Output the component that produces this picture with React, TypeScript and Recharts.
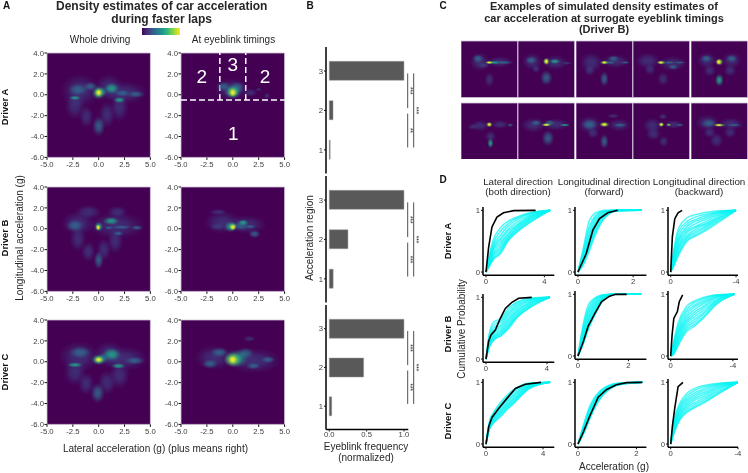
import React from "react";
import {
  Bar,
  BarChart,
  Line,
  LineChart,
  ReferenceArea,
  ReferenceDot,
  ReferenceLine,
  Scatter,
  ScatterChart,
  XAxis,
  YAxis,
} from "recharts";

const FONT = '"Liberation Sans", Arial, sans-serif';
const TICK = "#404040";

// density blobs: x (g), y (g), spread x (g), spread y (g), level
type Blob = number[];

const wholeA: Blob[] = [
  [-1.8, 0.4, 1.9, 1.6, 0], [2.5, 0.2, 2.2, 1.1, 0], [1, 0.7, 1.4, 1.3, 0], [-2.3, -1, 1, 1.4, 0],
  [2, -1.2, 0.9, 1.4, 0], [-1.2, -2.1, 0.7, 1.1, 0], [0.8, -1.9, 0.8, 1.3, 0], [0, -3, 0.65, 1, 1],
  [-2, 0.5, 1, 0.6, 1], [-0.8, 0.8, 0.7, 0.45, 1], [2.3, 0.15, 0.8, 0.35, 1], [3.6, 0.05, 0.85, 0.35, 1],
  [-2.3, -0.3, 0.6, 0.22, 2], [1.25, 0.6, 0.75, 0.55, 2], [2, -0.5, 0.6, 0.3, 2], [0.4, 0.3, 0.45, 0.45, 1],
  [0, 0.2, 0.7, 0.7, 2], [0, 0.2, 0.5, 0.5, 3], [0, 0.2, 0.3, 0.33, 4],
];
const blinkA: Blob[] = [
  [-0.1, 0.5, 1.7, 1.1, 0], [1.7, 0.2, 0.7, 0.4, 0], [2.5, 0.5, 0.3, 0.2, 0], [3.3, -0.1, 0.3, 0.3, 0],
  [-0.9, 0.8, 0.7, 0.5, 1], [0.4, 0.7, 0.8, 0.6, 1], [0, 0.3, 0.85, 0.7, 2], [0, 0.25, 0.6, 0.55, 3],
  [0, 0.2, 0.33, 0.38, 4],
];
const wholeB: Blob[] = [
  [-2, 0.5, 1.6, 1.2, 0], [1.7, 0.3, 2.8, 1.3, 0], [-1, 1.6, 1.3, 0.7, 0], [1.8, 1.6, 1, 0.6, 0],
  [-2, -1, 0.8, 1.2, 0], [1.6, -1.2, 0.8, 1.2, 0], [-1, -2.2, 0.7, 1, 0], [0.5, -2, 0.7, 1.1, 0],
  [0, -3, 0.5, 0.9, 1], [-2.3, 0.3, 0.9, 0.6, 1], [1.2, 0.75, 0.8, 0.4, 2], [2.2, 0.15, 1, 0.2, 1],
  [3.7, 0.1, 0.6, 0.25, 1], [1.9, -0.45, 0.55, 0.25, 1], [1, 0.1, 0.45, 0.17, 1], [0, 0.2, 0.45, 0.5, 2],
  [-0.05, 0.13, 0.25, 0.3, 4],
];
const blinkB: Blob[] = [
  [-1, 0.6, 1.8, 1.1, 0], [1.3, 0.4, 2, 0.9, 0], [-1.4, 1.6, 0.9, 0.3, 0], [2.1, -0.5, 0.6, 0.4, 1],
  [-1.5, 0.2, 0.8, 0.35, 0], [0.8, 0.3, 0.8, 0.5, 1], [1, 0.6, 0.5, 0.3, 2], [1.7, 0.2, 0.55, 0.2, 1],
  [-0.2, 0.2, 0.65, 0.55, 2], [0, 0.2, 0.42, 0.38, 3], [0, 0.15, 0.27, 0.27, 4],
];
const wholeC: Blob[] = [
  [-1.9, 0.5, 2, 1.5, 0], [2.5, 0.3, 2.2, 1.2, 0], [1, 0.7, 1.5, 1.3, 0], [-2.3, -1, 1.1, 1.3, 0],
  [2, -1.3, 1, 1.3, 0], [-1.2, -2.1, 0.8, 1.1, 0], [0.8, -2, 0.9, 1.2, 0], [-0.1, -3, 0.7, 1, 1],
  [-1.8, 0.9, 1.1, 0.6, 1], [-2.3, -0.3, 0.8, 0.25, 2], [1.25, 0.7, 0.9, 0.65, 2], [1.9, -0.4, 0.7, 0.28, 2],
  [3.5, 0.1, 1, 0.4, 1], [0.5, 0.4, 0.6, 0.5, 1], [0, 0.2, 0.75, 0.55, 2], [0, 0.2, 0.55, 0.42, 3],
  [0, 0.2, 0.33, 0.24, 4],
];
const blinkC: Blob[] = [
  [-1.8, 0.4, 1.9, 1.2, 0], [2.1, 0.1, 2.6, 1.2, 0], [1.6, 2.2, 0.6, 0.3, 0], [-1.3, 0.9, 0.9, 0.5, 1],
  [-2.2, -0.2, 0.8, 0.45, 1], [1.2, 0.8, 0.9, 0.6, 1], [2, -0.4, 0.7, 0.35, 1], [3.4, 0.2, 0.7, 0.35, 1],
  [0.3, 0.3, 1.2, 0.9, 2], [0, 0.2, 0.85, 0.7, 3], [0, 0.2, 0.42, 0.42, 4],
];

const simPanels: Blob[][] = [
  [[-1.7, 0.3, 1.6, 1.5, 0], [0, -2.8, 0.8, 1.2, 0], [1.8, 0.3, 2, 0.9, 0], [-2, 0.9, 0.9, 0.7, 1], [-1, -0.3, 1, 0.5, 0], [2.5, 0.2, 1.7, 0.3, 1], [0.9, 0.2, 0.9, 0.3, 2], [0, 0.2, 0.7, 0.3, 3], [0, 0.2, 0.45, 0.2, 4]],
  [[-2.5, 0.4, 1.6, 1.4, 0], [1.6, 0.2, 2, 1.2, 0], [0, -2.5, 1, 1.2, 1], [-2.7, 0.6, 0.9, 0.6, 1], [-1.8, -0.9, 0.7, 0.7, 0], [3.6, 0.1, 0.9, 0.3, 0], [1.5, 0.4, 0.9, 0.4, 2], [0, 0.4, 0.55, 0.6, 3], [0, 0.4, 0.35, 0.45, 4]],
  [[-2.3, 0.2, 1.8, 1.6, 0], [2, 0.4, 2.2, 1.1, 0], [0, -2.7, 0.7, 1.2, 1], [-2.6, -1.2, 0.9, 0.9, 0], [3.7, 0.2, 0.8, 0.25, 1], [1.6, 0.9, 0.9, 0.5, 1], [1, 0.2, 1, 0.3, 1], [0, 0.2, 0.7, 0.35, 3], [0, 0.2, 0.4, 0.22, 4]],
  [[-2.4, 0.5, 2, 1.3, 0], [2, 0, 2.2, 1.2, 0], [0.3, -2.7, 0.9, 1.1, 0], [-2, -1, 0.9, 0.9, 0], [2.1, -0.6, 0.8, 0.4, 1], [3.3, 0.2, 1, 0.22, 1], [1.4, 0.2, 1, 0.25, 1], [0, 0.2, 0.75, 0.35, 3], [-0.1, 0.2, 0.45, 0.22, 4]],
  [[-2.2, 0.6, 1.6, 1.3, 0], [2.2, 0.6, 1.6, 1.3, 0], [-1.7, -1.2, 1, 1, 0], [1.9, -1.2, 1, 1, 0], [-2.3, 0.9, 0.9, 0.6, 1], [2.2, 0.9, 0.9, 0.6, 1], [0, -2.9, 0.7, 1, 2], [0, 0.3, 0.65, 0.6, 3], [-0.1, 0.3, 0.42, 0.42, 4]],
  [[-1.6, 0, 1.4, 0.9, 0], [1.9, 0.2, 1.4, 0.7, 0], [-2.9, -0.2, 0.8, 0.5, 0], [0.2, -1.9, 0.9, 0.9, 0], [0.2, -3.1, 0.5, 0.8, 2], [3.7, 0.1, 0.5, 0.3, 1], [0, 0.2, 0.55, 0.45, 3], [0, 0.2, 0.33, 0.3, 4]],
  [[-2.3, 0.1, 2, 1.2, 0], [1.7, 0.2, 2.2, 1, 0], [0.3, -2.2, 1, 1.3, 1], [-1.8, 0.5, 0.9, 0.5, 1], [3.3, 0.1, 0.9, 0.22, 2], [0.6, 0.5, 0.9, 0.5, 1], [0, 0.15, 0.85, 0.3, 3], [0, 0.15, 0.5, 0.2, 4]],
  [[-2.6, 0.2, 1.9, 1.4, 0], [2.6, 0.1, 1.9, 1, 0], [1.6, 1.7, 1, 0.4, 0], [-2, -1.3, 1, 0.9, 0], [0, -2.8, 0.7, 1.2, 1], [-2.6, 0.2, 1.3, 0.9, 1], [2.8, 0.1, 1.1, 0.3, 1], [0, 0.2, 0.85, 0.45, 3], [0, 0.2, 0.5, 0.27, 4]],
  [[-1.6, 0, 1.5, 1.3, 0], [2.2, 0.2, 1.6, 0.7, 0], [-1.4, -1.5, 1.2, 1, 0], [0.4, -2.8, 0.8, 0.9, 0], [0.3, 1.6, 0.7, 0.5, 0], [3.3, 0.1, 0.7, 0.2, 1], [1.3, 0.15, 0.4, 0.25, 3], [0, 0.2, 0.5, 0.4, 3], [0, 0.2, 0.32, 0.26, 4]],
  [[-2.1, 0.5, 1.9, 1.3, 0], [2.1, 0.3, 2, 1, 0], [-0.5, -2.6, 1.1, 1.2, 0], [-1.7, -1.2, 1, 0.9, 0], [1.9, -1.2, 1, 0.9, 0], [-1.8, 0.4, 1.2, 0.7, 1], [2.6, 0.1, 1.2, 0.25, 1], [0, 0.1, 1, 0.3, 3], [-0.1, 0.1, 0.6, 0.18, 4]],
];

const HEAT_X = [-5, -2.5, 0, 2.5, 5];
const HEAT_Y = [-6, -4, -2, 0, 2, 4];

// eyeblink frequency per acceleration region
const regions = [3, 2, 1];
const blinkFreqA = [1, 0.05, 0.012];
const blinkFreqB = [1, 0.25, 0.052];
const blinkFreqC = [1, 0.46, 0.032];
const starsA = ["***", "**", "***"];
const starsB = ["***", "***", "***"];
const starsC = ["***", "***", "***"];

// cumulative curves, y values at the shared x positions of each panel
const latXsA = [0, 0.25, 0.5, 1, 1.5, 2, 3, 4.4];
const latSimA = [
  [0, 0.3, 0.52, 0.72, 0.82, 0.88, 0.96, 1],
  [0, 0.27, 0.47, 0.66, 0.78, 0.86, 0.95, 1],
  [0, 0.24, 0.43, 0.6, 0.74, 0.83, 0.94, 1],
  [0, 0.22, 0.4, 0.55, 0.69, 0.79, 0.92, 1],
  [0, 0.2, 0.37, 0.52, 0.66, 0.75, 0.9, 1],
  [0, 0.18, 0.35, 0.48, 0.62, 0.73, 0.89, 1],
  [0, 0.17, 0.31, 0.45, 0.6, 0.71, 0.87, 1],
  [0, 0.15, 0.28, 0.41, 0.57, 0.69, 0.86, 1],
  [0, 0.14, 0.26, 0.38, 0.55, 0.67, 0.84, 1],
  [0, 0.12, 0.23, 0.35, 0.53, 0.65, 0.83, 1],
  [0, 0.11, 0.21, 0.32, 0.51, 0.63, 0.81, 1],
  [0, 0.1, 0.2, 0.3, 0.5, 0.62, 0.8, 1],
];
const latRealA = [[0, 0], [0.18, 0.4], [0.41, 0.73], [0.75, 0.89], [1.2, 0.96], [1.9, 0.995], [3.4, 1]];

const fwdXsA = [0, 0.2, 0.4, 0.6, 0.8, 1, 1.4, 2.3];
const fwdSimA = [
  [0, 0.4, 0.82, 0.95, 0.985, 1, 1, 1],
  [0, 0.36, 0.72, 0.9, 0.97, 0.99, 1, 1],
  [0, 0.33, 0.66, 0.87, 0.96, 0.99, 1, 1],
  [0, 0.3, 0.6, 0.83, 0.94, 0.98, 1, 1],
  [0, 0.27, 0.56, 0.79, 0.92, 0.97, 1, 1],
  [0, 0.25, 0.52, 0.76, 0.9, 0.96, 1, 1],
  [0, 0.23, 0.49, 0.73, 0.88, 0.95, 1, 1],
  [0, 0.21, 0.46, 0.7, 0.86, 0.94, 1, 1],
  [0, 0.19, 0.43, 0.67, 0.84, 0.93, 0.995, 1],
  [0, 0.17, 0.4, 0.63, 0.81, 0.92, 0.995, 1],
  [0, 0.14, 0.36, 0.6, 0.78, 0.9, 0.99, 1],
  [0, 0.12, 0.33, 0.57, 0.76, 0.89, 0.99, 1],
];
const fwdRealA = [[0, 0], [0.3, 0.3], [0.54, 0.68], [0.78, 0.865], [1.08, 0.96], [1.44, 1]];

const backXsA = [0, -0.2, -0.5, -1, -1.5, -2, -3, -4];
const backSimA = [
  [0, 0.38, 0.72, 0.88, 0.93, 0.96, 0.995, 1],
  [0, 0.34, 0.66, 0.82, 0.89, 0.93, 0.98, 1],
  [0, 0.31, 0.6, 0.78, 0.85, 0.9, 0.97, 1],
  [0, 0.28, 0.55, 0.74, 0.82, 0.87, 0.96, 1],
  [0, 0.25, 0.52, 0.7, 0.78, 0.84, 0.94, 1],
  [0, 0.22, 0.48, 0.67, 0.74, 0.8, 0.93, 1],
  [0, 0.2, 0.44, 0.64, 0.72, 0.77, 0.91, 1],
  [0, 0.18, 0.41, 0.6, 0.69, 0.75, 0.89, 1],
  [0, 0.16, 0.38, 0.57, 0.66, 0.72, 0.88, 1],
  [0, 0.14, 0.34, 0.55, 0.63, 0.7, 0.86, 1],
  [0, 0.12, 0.31, 0.52, 0.6, 0.67, 0.84, 1],
  [0, 0.1, 0.28, 0.5, 0.58, 0.65, 0.82, 1],
];
const backRealA = [[0, 0], [-0.1, 0.57], [-0.25, 0.865], [-0.45, 0.96], [-0.7, 1]];

const latXsB = [0, 0.2, 0.5, 1, 1.5, 2, 3, 4.2];
const latSimB = [
  [0, 0.39, 0.6, 0.66, 0.83, 0.92, 0.99, 1],
  [0, 0.36, 0.55, 0.63, 0.79, 0.9, 0.98, 1],
  [0, 0.33, 0.5, 0.6, 0.75, 0.87, 0.97, 1],
  [0, 0.31, 0.46, 0.56, 0.72, 0.84, 0.96, 1],
  [0, 0.29, 0.43, 0.53, 0.68, 0.81, 0.95, 1],
  [0, 0.27, 0.41, 0.5, 0.65, 0.78, 0.93, 1],
  [0, 0.25, 0.38, 0.47, 0.62, 0.76, 0.92, 1],
  [0, 0.24, 0.36, 0.45, 0.59, 0.73, 0.9, 1],
  [0, 0.22, 0.34, 0.43, 0.56, 0.71, 0.89, 1],
  [0, 0.21, 0.33, 0.41, 0.54, 0.69, 0.87, 1],
  [0, 0.19, 0.31, 0.39, 0.52, 0.67, 0.86, 1],
  [0, 0.18, 0.3, 0.38, 0.5, 0.66, 0.85, 1],
];
const latRealB = [[0, 0], [0.17, 0.285], [0.33, 0.39], [0.61, 0.47], [0.94, 0.66], [1.27, 0.82], [1.7, 0.92], [2.14, 0.985], [3, 1]];

const fwdXsB = [0, 0.2, 0.4, 0.6, 0.8, 1, 1.4, 2.5];
const fwdSimB = [
  [0, 0.5, 0.82, 0.92, 0.97, 0.995, 1, 1],
  [0, 0.45, 0.76, 0.9, 0.96, 0.99, 1, 1],
  [0, 0.41, 0.72, 0.87, 0.95, 0.985, 1, 1],
  [0, 0.37, 0.67, 0.84, 0.93, 0.98, 1, 1],
  [0, 0.34, 0.63, 0.81, 0.91, 0.97, 1, 1],
  [0, 0.31, 0.59, 0.78, 0.89, 0.96, 1, 1],
  [0, 0.28, 0.56, 0.75, 0.87, 0.95, 1, 1],
  [0, 0.26, 0.53, 0.72, 0.85, 0.94, 1, 1],
  [0, 0.24, 0.5, 0.69, 0.83, 0.93, 1, 1],
  [0, 0.22, 0.47, 0.66, 0.81, 0.92, 1, 1],
  [0, 0.2, 0.44, 0.63, 0.79, 0.91, 1, 1],
  [0, 0.18, 0.42, 0.61, 0.77, 0.91, 1, 1],
];
const fwdRealB = [[0, 0], [0.21, 0.23], [0.4, 0.48], [0.67, 0.69], [0.93, 0.88], [1.25, 0.97], [1.5, 1], [1.93, 1]];

const backXsB = [0, -0.2, -0.5, -1, -1.5, -2, -3, -4.1];
const backSimB = [
  [0, 0.25, 0.55, 0.8, 0.89, 0.94, 0.995, 1],
  [0, 0.22, 0.5, 0.75, 0.86, 0.92, 0.99, 1],
  [0, 0.19, 0.45, 0.71, 0.82, 0.89, 0.98, 1],
  [0, 0.17, 0.41, 0.66, 0.79, 0.86, 0.97, 1],
  [0, 0.15, 0.38, 0.62, 0.75, 0.83, 0.96, 1],
  [0, 0.13, 0.35, 0.58, 0.71, 0.79, 0.95, 1],
  [0, 0.11, 0.31, 0.55, 0.67, 0.76, 0.93, 1],
  [0, 0.1, 0.29, 0.52, 0.63, 0.72, 0.91, 1],
  [0, 0.08, 0.26, 0.48, 0.59, 0.68, 0.9, 1],
  [0, 0.06, 0.23, 0.45, 0.55, 0.65, 0.88, 1],
  [0, 0.04, 0.2, 0.42, 0.51, 0.61, 0.86, 1],
  [0, 0.03, 0.18, 0.39, 0.48, 0.59, 0.85, 1],
];
const backRealB = [[0, 0], [-0.09, 0.34], [-0.2, 0.61], [-0.43, 0.72], [-0.55, 0.88], [-0.77, 0.99]];

const latXsC = [0, 0.25, 0.5, 1, 1.5, 2, 3, 4.5];
const latSimC = [
  [0, 0.38, 0.5, 0.67, 0.8, 0.89, 0.985, 1],
  [0, 0.36, 0.48, 0.64, 0.77, 0.87, 0.98, 1],
  [0, 0.34, 0.46, 0.61, 0.74, 0.84, 0.97, 1],
  [0, 0.33, 0.44, 0.59, 0.71, 0.81, 0.96, 1],
  [0, 0.31, 0.42, 0.56, 0.69, 0.79, 0.95, 1],
  [0, 0.3, 0.4, 0.54, 0.66, 0.76, 0.94, 1],
  [0, 0.29, 0.39, 0.52, 0.64, 0.74, 0.93, 1],
  [0, 0.27, 0.37, 0.5, 0.62, 0.72, 0.92, 1],
  [0, 0.26, 0.35, 0.48, 0.6, 0.7, 0.91, 1],
  [0, 0.25, 0.34, 0.46, 0.58, 0.68, 0.9, 1],
  [0, 0.24, 0.33, 0.44, 0.56, 0.67, 0.89, 1],
];
const latRealC = [[0, 0], [0.19, 0.28], [0.42, 0.43], [0.89, 0.575], [1.47, 0.74], [2.06, 0.9], [2.76, 0.97], [3.86, 1]];

const fwdXsC = [0, 0.2, 0.4, 0.6, 0.8, 1, 1.4, 2.2];
const fwdSimC = [
  [0, 0.33, 0.61, 0.78, 0.88, 0.94, 0.99, 1],
  [0, 0.31, 0.58, 0.76, 0.87, 0.93, 0.985, 1],
  [0, 0.29, 0.56, 0.74, 0.85, 0.92, 0.98, 1],
  [0, 0.27, 0.53, 0.72, 0.84, 0.91, 0.98, 1],
  [0, 0.25, 0.5, 0.7, 0.82, 0.9, 0.975, 1],
  [0, 0.23, 0.48, 0.68, 0.81, 0.89, 0.97, 1],
  [0, 0.21, 0.46, 0.66, 0.79, 0.88, 0.97, 1],
  [0, 0.2, 0.44, 0.64, 0.78, 0.87, 0.965, 1],
  [0, 0.19, 0.42, 0.62, 0.77, 0.86, 0.96, 1],
  [0, 0.17, 0.4, 0.61, 0.76, 0.86, 0.96, 1],
];
const fwdRealC = [[0, 0], [0.17, 0.18], [0.4, 0.45], [0.69, 0.76], [0.97, 0.88], [1.31, 0.96], [1.66, 0.995], [2.2, 1]];

const backXsC = [0, -0.2, -0.5, -1, -1.5, -2, -3, -4];
const backSimC = [
  [0, 0.39, 0.64, 0.83, 0.91, 0.95, 0.99, 1],
  [0, 0.36, 0.6, 0.79, 0.88, 0.93, 0.98, 1],
  [0, 0.33, 0.57, 0.75, 0.84, 0.9, 0.97, 1],
  [0, 0.31, 0.54, 0.72, 0.81, 0.87, 0.96, 1],
  [0, 0.29, 0.51, 0.69, 0.78, 0.84, 0.94, 1],
  [0, 0.27, 0.48, 0.66, 0.75, 0.81, 0.93, 1],
  [0, 0.25, 0.46, 0.63, 0.72, 0.78, 0.91, 1],
  [0, 0.23, 0.43, 0.6, 0.68, 0.75, 0.89, 1],
  [0, 0.21, 0.41, 0.57, 0.65, 0.72, 0.87, 1],
  [0, 0.19, 0.39, 0.54, 0.62, 0.69, 0.85, 1],
  [0, 0.17, 0.37, 0.52, 0.6, 0.67, 0.84, 1],
];
const backRealC = [[0, 0], [-0.1, 0.285], [-0.24, 0.58], [-0.44, 0.93], [-0.73, 1]];

const viridisStops = "#440154, #482878, #3e4a89, #31688e, #26828e, #1f9e89, #35b779, #6ece58, #b5de2b, #fde725";

const LEVELS = ["#3c4a8a", "#2f6c8e", "#1fa088", "#6ece58", "#fde725"];
const LEVEL_PEAK = [0.62, 0.85, 0.95, 1, 1];

function Txt({ x, y, size = 10, bold, rot, color = "#262626", children }: any) {
  return (
    <div
      style={{
        position: "absolute",
        left: x,
        top: y,
        transform: `translate(-50%, -50%)${rot ? ` rotate(${rot}deg)` : ""}`,
        whiteSpace: "nowrap",
        fontFamily: FONT,
        fontSize: size,
        fontWeight: bold ? 700 : 400,
        color,
        lineHeight: 1,
      }}
    >
      {children}
    </div>
  );
}

function Heat({ left, top, w, h, blobs, axes = true, spread = 1, children }: any) {
  const padL = axes ? 40 : 1;
  const padT = axes ? 6 : 1;
  const padR = axes ? 10 : 1;
  const padB = axes ? 16 : 1;
  const data = blobs.map((b: Blob) => ({ x: b[0], y: b[1], sx: b[2], sy: b[3], level: b[4] }));
  const drawBlob = (p: any) => (
    <ellipse
      cx={p.cx}
      cy={p.cy}
      rx={(spread * p.payload.sx * w) / 10}
      ry={(spread * p.payload.sy * h) / 10}
      fill={`url(#lvl${p.payload.level})`}
    />
  );
  const tick = { fontSize: 7.7, fill: TICK, fontFamily: FONT };
  return (
    <div style={{ position: "absolute", left: left - padL, top: top - padT }}>
      <ScatterChart
        width={padL + w + padR}
        height={padT + h + padB}
        margin={{ top: padT, right: padR, bottom: 0, left: 0 }}
      >
        <XAxis
          type="number"
          dataKey="x"
          domain={[-5, 5]}
          ticks={HEAT_X}
          interval={0}
          hide={!axes}
          height={padB}
          axisLine={false}
          tick={tick}
          tickSize={2.5}
          tickMargin={1.5}
          tickLine={{ stroke: "#111", strokeWidth: 1 }}
          tickFormatter={(v: number) => v.toFixed(1)}
        />
        <YAxis
          type="number"
          dataKey="y"
          domain={[-6, 4]}
          ticks={HEAT_Y}
          interval={0}
          hide={!axes}
          width={padL}
          axisLine={false}
          tick={tick}
          tickSize={2.5}
          tickMargin={0.5}
          tickLine={{ stroke: "#111", strokeWidth: 1 }}
          tickFormatter={(v: number) => v.toFixed(1)}
        />
        <ReferenceArea x1={-5} x2={5} y1={-6} y2={4} fill="#440154" fillOpacity={1} stroke="#cfc4d8" strokeWidth={0.8} />
        <Scatter data={data} shape={drawBlob} isAnimationActive={false} />
        {children}
      </ScatterChart>
    </div>
  );
}

const regionLabel = (x: number, y: number, value: string) => (
  <ReferenceDot
    key={value + x}
    x={x}
    y={y}
    r={0}
    fill="none"
    stroke="none"
    label={{ value, position: "center", fill: "#fff", fontSize: 19, fontFamily: FONT }}
  />
);

const dash = { stroke: "#fff", strokeWidth: 1.5, strokeDasharray: "6 3" };

function BlinkBars({ top, freq, stars, showX }: any) {
  const data = regions.map((r, i) => ({ region: r, freq: freq[i] }));
  const h = 124.5;
  const padB = showX ? 14 : 2;
  const sigLine = (x: number, y1: number, y2: number) => (
    <ReferenceLine
      key={`${x}-${y1}`}
      ifOverflow="visible"
      segment={[{ x, y: y1 }, { x, y: y2 }]}
      stroke="#222"
      strokeWidth={0.8}
    />
  );
  const star = (x: number, y: number, value: string) => (
    <ReferenceDot
      key={`s${x}-${y}`}
      ifOverflow="visible"
      x={x}
      y={y}
      r={0}
      fill="none"
      stroke="none"
      label={{ value, position: "center", angle: 90, fill: "#222", fontSize: 6.5, fontFamily: FONT }}
    />
  );
  return (
    <div style={{ position: "absolute", left: 325.7 - 16, top: top - 1 }}>
      <BarChart
        layout="vertical"
        width={16 + 82.3 + 20}
        height={1 + h + padB}
        data={data}
        margin={{ top: 1, right: 20, bottom: 0, left: 0 }}
      >
        <XAxis
          type="number"
          domain={[-0.044, 1.058]}
          allowDataOverflow
          ticks={[0, 0.5, 1]}
          hide={!showX}
          height={padB}
          axisLine={{ stroke: "#000", strokeWidth: 1.5 }}
          tick={{ fontSize: 7.7, fill: TICK, fontFamily: FONT }}
          tickSize={2}
          tickMargin={0.5}
          tickLine={{ stroke: "#111" }}
          tickFormatter={(v: number) => v.toFixed(1)}
        />
        <YAxis
          type="number"
          dataKey="region"
          domain={[0.4, 3.61]}
          allowDataOverflow
          reversed
          ticks={regions}
          width={16}
          axisLine={{ stroke: "#000", strokeWidth: 1.5 }}
          tick={{ fontSize: 7.7, fill: TICK, fontFamily: FONT }}
          tickSize={2}
          tickMargin={1}
          tickLine={{ stroke: "#111" }}
        />
        <Bar dataKey="freq" barSize={19} fill="#595959" stroke="#9a9a9a" strokeWidth={0.5} isAnimationActive={false} />
        {sigLine(1.05, 2.94, 2.06)}
        {sigLine(1.05, 1.92, 1.06)}
        {sigLine(1.13, 2.94, 1.06)}
        {star(1.09, 2.5, stars[0])}
        {star(1.09, 1.49, stars[1])}
        {star(1.17, 2, stars[2])}
      </BarChart>
    </div>
  );
}

function Cdf({ left, top, xDomain, xTicks, reversed, xs, sims, real, rowH = 68.3 }: any) {
  const padL = 14;
  const padB = 13;
  const w = left < 500 ? 71.3 : left < 600 ? 71.4 : 70;
  const realData = real.map((p: number[]) => ({ x: p[0], y: p[1] }));
  return (
    <div style={{ position: "absolute", left: left - padL, top: top - 1 }}>
      <LineChart
        width={padL + w + 6}
        height={1 + rowH + padB}
        margin={{ top: 1, right: 6, bottom: 0, left: 0 }}
      >
        <XAxis
          type="number"
          dataKey="x"
          domain={xDomain}
          allowDataOverflow
          reversed={reversed}
          ticks={xTicks}
          interval={0}
          height={padB}
          axisLine={{ stroke: "#000", strokeWidth: 1.5 }}
          tick={{ fontSize: 7.7, fill: TICK, fontFamily: FONT }}
          tickSize={2}
          tickMargin={1}
          tickLine={{ stroke: "#111" }}
        />
        <YAxis
          type="number"
          dataKey="y"
          domain={[-0.053, 1.054]}
          allowDataOverflow
          ticks={[0, 1]}
          interval={0}
          width={padL}
          axisLine={{ stroke: "#000", strokeWidth: 1.5 }}
          tick={{ fontSize: 7.7, fill: TICK, fontFamily: FONT }}
          tickSize={2}
          tickMargin={1}
          tickLine={{ stroke: "#111" }}
        />
        {sims.map((vals: number[], i: number) => (
          <Line
            key={i}
            data={xs.map((x: number, k: number) => ({ x, y: vals[k] }))}
            dataKey="y"
            type="monotone"
            stroke="#04f4f4"
            strokeOpacity={0.7}
            strokeWidth={1.5}
            dot={false}
            isAnimationActive={false}
          />
        ))}
        <Line
          data={realData}
          dataKey="y"
          type="linear"
          stroke="#000"
          strokeWidth={1.6}
          dot={false}
          isAnimationActive={false}
        />
      </LineChart>
    </div>
  );
}

const simCols = [461.7, 519, 576.7, 634, 691.7];
const simRows = [41.3, 102.7];

export default function App() {
  return (
    <div style={{ position: "absolute", left: 0, top: 0, width: 748, height: 473, background: "#fff", overflow: "hidden", filter: "blur(0.35px)" }}>
      <svg width={0} height={0} style={{ position: "absolute" }}>
        <defs>
          {LEVELS.map((c, i) => (
            <radialGradient key={c} id={`lvl${i}`}>
              <stop offset="0%" stopColor={c} stopOpacity={LEVEL_PEAK[i]} />
              <stop offset="40%" stopColor={c} stopOpacity={LEVEL_PEAK[i] * 0.75} />
              <stop offset="75%" stopColor={c} stopOpacity={LEVEL_PEAK[i] * 0.25} />
              <stop offset="100%" stopColor={c} stopOpacity={0} />
            </radialGradient>
          ))}
        </defs>
      </svg>

      <Txt x={6.5} y={6} size={10} bold color="#111">A</Txt>
      <Txt x={310} y={5.5} size={10} bold color="#111">B</Txt>
      <Txt x={443} y={5.5} size={10} bold color="#111">C</Txt>
      <Txt x={443} y={180} size={10} bold color="#111">D</Txt>

      <Txt x={161.7} y={6} size={12} bold>Density estimates of car acceleration</Txt>
      <Txt x={161.7} y={18.7} size={12} bold>during faster laps</Txt>
      <div style={{ position: "absolute", left: 142, top: 27.5, width: 38, height: 7.5, background: `linear-gradient(to right, ${viridisStops})` }} />
      <Txt x={100} y={40} size={10}>Whole driving</Txt>
      <Txt x={233.5} y={40} size={10}>At eyeblink timings</Txt>
      <Txt x={5} y={107} size={9.5} bold rot={-90} color="#111">Driver A</Txt>
      <Txt x={5} y={238} size={9.5} bold rot={-90} color="#111">Driver B</Txt>
      <Txt x={5} y={372} size={9.5} bold rot={-90} color="#111">Driver C</Txt>
      <Txt x={20} y={238} size={10} rot={-90}>Longitudinal acceleration (g)</Txt>
      <Txt x={155.5} y={449} size={10}>Lateral acceleration (g) (plus means right)</Txt>

      <Heat left={47.3} top={52.7} w={103.4} h={104.4} blobs={wholeA} />
      <Heat left={180.7} top={52.7} w={103.6} h={104.4} blobs={blinkA}>
        <ReferenceLine y={-0.5} {...dash} />
        <ReferenceLine segment={[{ x: -1.25, y: -0.5 }, { x: -1.25, y: 4 }]} {...dash} />
        <ReferenceLine segment={[{ x: 1.25, y: -0.5 }, { x: 1.25, y: 4 }]} {...dash} />
        {regionLabel(-3, 1.75, "2")}
        {regionLabel(0, 2.9, "3")}
        {regionLabel(3.1, 1.75, "2")}
        {regionLabel(0.05, -3.7, "1")}
      </Heat>
      <Heat left={47.3} top={186.7} w={103.4} h={104.4} blobs={wholeB} />
      <Heat left={180.7} top={186.7} w={103.6} h={104.4} blobs={blinkB} />
      <Heat left={47.3} top={320.2} w={103.4} h={104.4} blobs={wholeC} />
      <Heat left={180.7} top={320.2} w={103.6} h={104.4} blobs={blinkC} />

      <BlinkBars top={47.3} freq={blinkFreqA} stars={starsA} />
      <BlinkBars top={176} freq={blinkFreqB} stars={starsB} />
      <BlinkBars top={304.5} freq={blinkFreqC} stars={starsC} showX />
      <Txt x={310} y={238} size={10} rot={-90}>Acceleration region</Txt>
      <Txt x={366} y={446.5} size={10}>Eyeblink frequency</Txt>
      <Txt x={366} y={457.5} size={10}>(normalized)</Txt>

      <Txt x={604} y={6} size={11} bold>Examples of simulated density estimates of</Txt>
      <Txt x={604} y={17.5} size={11} bold>car acceleration at surrogate eyeblink timings</Txt>
      <Txt x={604} y={29} size={11} bold>(Driver B)</Txt>
      {simRows.map((top, r) =>
        simCols.map((left, c) => (
          <Heat key={`${r}-${c}`} left={left} top={top} w={55.6} h={55.6} blobs={simPanels[r * 5 + c]} axes={false} spread={1.15} />
        ))
      )}

      <Txt x={518} y={182} size={9.8}>Lateral direction</Txt>
      <Txt x={518} y={192} size={9.8}>(both direction)</Txt>
      <Txt x={604} y={182} size={9.8}>Longitudinal direction</Txt>
      <Txt x={604} y={192} size={9.8}>(forward)</Txt>
      <Txt x={699} y={182} size={9.8}>Longitudinal direction</Txt>
      <Txt x={699} y={192} size={9.8}>(backward)</Txt>
      <Txt x={448} y={241} size={9.5} bold rot={-90} color="#111">Driver A</Txt>
      <Txt x={448} y={334} size={9.5} bold rot={-90} color="#111">Driver B</Txt>
      <Txt x={448} y={421} size={9.5} bold rot={-90} color="#111">Driver C</Txt>
      <Txt x={462} y={329} size={10} rot={-90}>Cumulative Probability</Txt>
      <Txt x={614} y={466.5} size={10}>Acceleration (g)</Txt>

      <Cdf left={482.7} top={206.7} xDomain={[-0.205, 4.68]} xTicks={[0, 4]} xs={latXsA} sims={latSimA} real={latRealA} />
      <Cdf left={575.3} top={206.7} xDomain={[-0.108, 2.48]} xTicks={[0, 2]} xs={fwdXsA} sims={fwdSimA} real={fwdRealA} />
      <Cdf left={668.3} top={206.7} xDomain={[-4.12, 0.166]} xTicks={[0, -4]} reversed xs={backXsA} sims={backSimA} real={backRealA} />
      <Cdf left={482.7} top={294} xDomain={[-0.197, 4.48]} xTicks={[0, 4]} xs={latXsB} sims={latSimB} real={latRealB} />
      <Cdf left={575.3} top={290.7} xDomain={[-0.118, 2.71]} xTicks={[0, 2]} xs={fwdXsB} sims={fwdSimB} real={fwdRealB} />
      <Cdf left={668.3} top={290.7} xDomain={[-4.33, 0.173]} xTicks={[0, -4]} reversed xs={backXsB} sims={backSimB} real={backRealB} />
      <Cdf left={482.7} top={378.7} xDomain={[-0.21, 4.79]} xTicks={[0, 4]} xs={latXsC} sims={latSimC} real={latRealC} />
      <Cdf left={575.3} top={379} xDomain={[-0.103, 2.34]} xTicks={[0, 2]} xs={fwdXsC} sims={fwdSimC} real={fwdRealC} />
      <Cdf left={668.3} top={379} xDomain={[-4, 0.16]} xTicks={[0, -4]} reversed xs={backXsC} sims={backSimC} real={backRealC} />
    </div>
  );
}
